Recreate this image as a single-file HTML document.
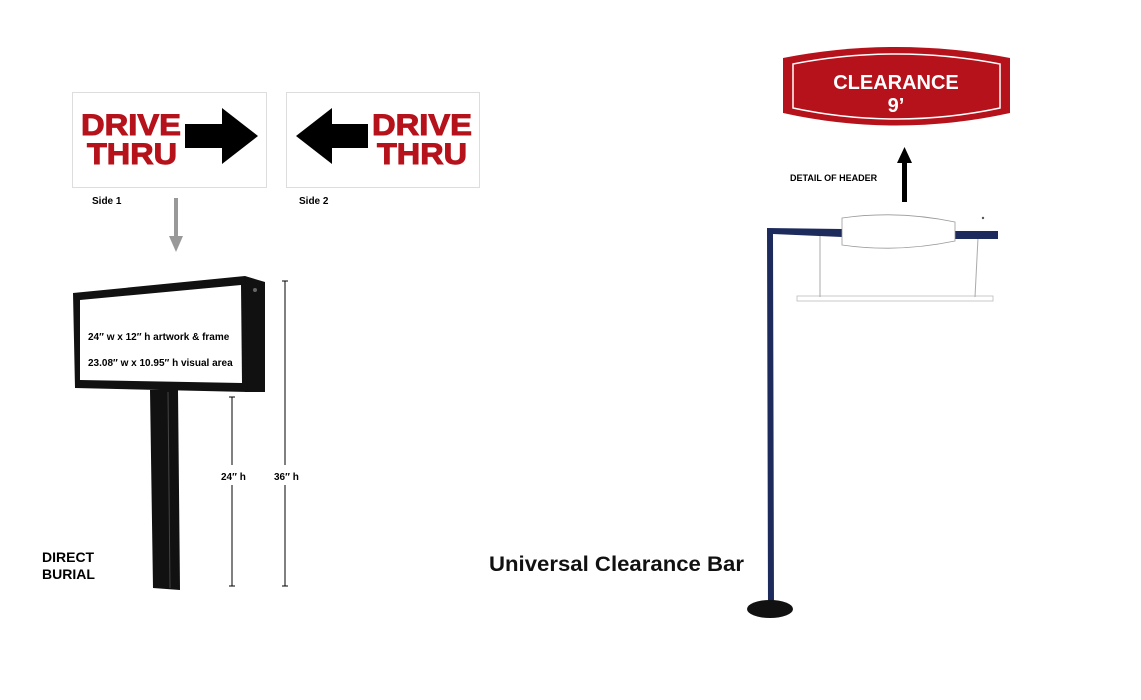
<!DOCTYPE html>
<html><head><meta charset="utf-8"><style>
html,body{margin:0;padding:0;background:#fff;}
svg{display:block;font-family:"Liberation Sans",sans-serif;}
</style></head><body>
<svg width="1141" height="700" viewBox="0 0 1141 700">
<rect x="72.5" y="92.5" width="194" height="95" fill="#fff" stroke="#ddd"/>
<text x="81" y="135" font-size="30" font-weight="bold" fill="#b5121b" textLength="100" lengthAdjust="spacingAndGlyphs" stroke="#b5121b" stroke-width="1">DRIVE</text>
<text x="87" y="164" font-size="30" font-weight="bold" fill="#b5121b" textLength="90" lengthAdjust="spacingAndGlyphs" stroke="#b5121b" stroke-width="1">THRU</text>
<polygon points="185,124 222,124 222,108 258,136 222,164 222,148 185,148" fill="#000"/>
<text x="92" y="204" font-size="10" font-weight="bold">Side 1</text>
<rect x="286.5" y="92.5" width="193" height="95" fill="#fff" stroke="#ddd"/>
<text x="372" y="135" font-size="30" font-weight="bold" fill="#b5121b" textLength="100" lengthAdjust="spacingAndGlyphs" stroke="#b5121b" stroke-width="1">DRIVE</text>
<text x="377" y="164" font-size="30" font-weight="bold" fill="#b5121b" textLength="90" lengthAdjust="spacingAndGlyphs" stroke="#b5121b" stroke-width="1">THRU</text>
<polygon points="368,124 332,124 332,108 296,136 332,164 332,148 368,148" fill="#000"/>
<text x="299" y="204" font-size="10" font-weight="bold">Side 2</text>
<rect x="174" y="198" width="4" height="40" fill="#999"/>
<polygon points="169,236 183,236 176,252" fill="#999"/>
<polygon points="245,276 265,282 265,392 245,392" fill="#111"/>
<polygon points="73,293 245,276 248,392 75,388" fill="#111"/>
<polygon points="80,300 241,285 242,383 80,380" fill="#fff"/>
<circle cx="255" cy="290" r="2" fill="#666"/>
<polygon points="150,390 178,390 180,590 153,588" fill="#111"/>
<line x1="168" y1="392" x2="170" y2="588" stroke="#444" stroke-width="1"/>
<text x="88" y="340" font-size="10" font-weight="bold">24″ w x 12″ h artwork &amp; frame</text>
<text x="88" y="366" font-size="10" font-weight="bold">23.08″ w x 10.95″ h visual area</text>
<line x1="232" y1="397" x2="232" y2="465" stroke="#000"/>
<line x1="232" y1="485" x2="232" y2="586" stroke="#000"/>
<line x1="229" y1="397" x2="235" y2="397" stroke="#000"/>
<line x1="229" y1="586" x2="235" y2="586" stroke="#000"/>
<text x="221" y="480" font-size="10" font-weight="bold">24″ h</text>
<line x1="285" y1="281" x2="285" y2="465" stroke="#000"/>
<line x1="285" y1="485" x2="285" y2="586" stroke="#000"/>
<line x1="282" y1="281" x2="288" y2="281" stroke="#000"/>
<line x1="282" y1="586" x2="288" y2="586" stroke="#000"/>
<text x="274" y="480" font-size="10" font-weight="bold">36″ h</text>
<text x="42" y="562" font-size="14" font-weight="bold">DIRECT</text>
<text x="42" y="579" font-size="14" font-weight="bold">BURIAL</text>
<path d="M783,58 Q896,36 1010,58 L1010,113 Q896,138 783,113 Z" fill="#b5121b"/>
<path d="M793,64 Q896,44 1000,64 L1000,108 Q896,130 793,108 Z" fill="none" stroke="#fff" stroke-width="1.5"/>
<text x="896" y="89" font-size="20" font-weight="bold" fill="#fff" text-anchor="middle">CLEARANCE</text>
<text x="896" y="112" font-size="20" font-weight="bold" fill="#fff" text-anchor="middle">9’</text>
<rect x="902" y="160" width="5" height="42" fill="#000"/>
<polygon points="897,163 912,163 904.5,147" fill="#000"/>
<text x="790" y="181" font-size="9" font-weight="bold">DETAIL OF HEADER</text>
<rect x="797" y="296" width="196" height="5" fill="#fff" stroke="#bbb" stroke-width="0.8"/>
<line x1="820" y1="235" x2="820" y2="297" stroke="#aaa"/>
<line x1="978" y1="238" x2="975" y2="297" stroke="#aaa"/>
<path d="M767,228 L768,608 L774,608 L773,234 L842,237 L842,229 Z" fill="#1c2a5c"/>
<rect x="950" y="231" width="48" height="8" fill="#1c2a5c"/>
<path d="M842,218 Q897,210 955,222 L955,241 Q897,253 842,245 Z" fill="#fff" stroke="#999" stroke-width="0.8"/>
<circle cx="983" cy="218" r="1.2" fill="#555"/>
<ellipse cx="770" cy="609" rx="23" ry="9" fill="#111"/>
<text x="489" y="571" font-size="21" font-weight="bold" fill="#111" textLength="255" lengthAdjust="spacingAndGlyphs">Universal Clearance Bar</text>
</svg>
</body></html>
